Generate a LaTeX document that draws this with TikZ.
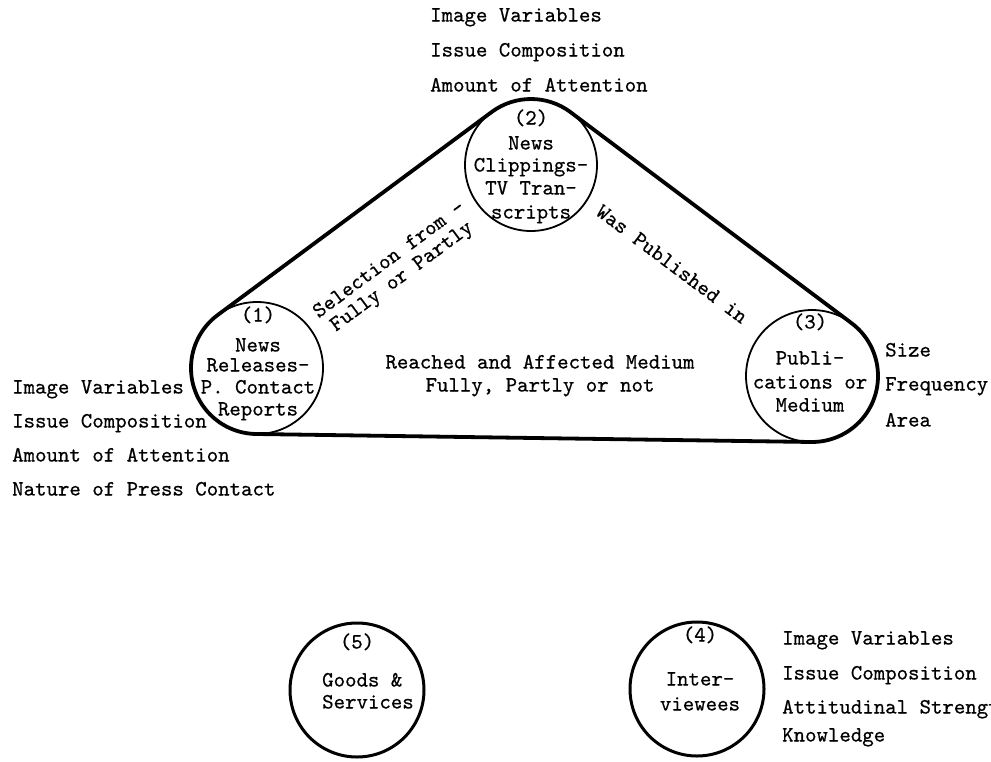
\documentclass[tikz,border=0pt]{standalone}
\usepackage{fontspec}
\usetikzlibrary{calc}
% typewriter face, slightly emboldened
\newfontfamily\tw{lmmono10-regular.otf}[FakeBold=0.6]
\begin{document}
\begin{tikzpicture}[x=1pt, y=-1pt,
  tw/.style={font={\tw\fontsize{21.8}{21}\selectfont}, inner sep=0pt},
  ln/.style={tw, text height=13pt, text depth=0pt},
  lbl/.style={ln, anchor=west},
  ring/.style={circle, draw, line width=1.8pt, minimum size=132pt, inner sep=0pt},
  heavyring/.style={ring, line width=3pt, minimum size=134pt},
  belt/.style={line width=3.8pt, line join=round}]
\useasboundingbox (0,0) rectangle (991,761);

% the three linked circles
\node[ring] (c1) at (257,368) {};
\node[ring] (c2) at (531,165) {};
\node[ring] (c3) at (812,376) {};

% the two free circles
\node[heavyring] (c5) at (357,690) {};
\node[heavyring] (c4) at (697,689) {};

% heavy band wrapped round circles 1, 2 and 3
\draw[belt] ($(c1)+(-126.5:66)$) -- ($(c2)+(-126.5:66)$)
  arc[start angle=-126.5, end angle=-53.1, radius=66]
  -- ($(c3)+(-53.1:66)$)
  arc[start angle=-53.1, end angle=90.8, radius=66]
  -- ($(c1)+(90.8:66)$)
  arc[start angle=90.8, end angle=233.5, radius=66] -- cycle;

% circle 2 text and attributes
\node[ln] (c2l1) at (531,118) {(2)};
\node[ln] (c2l2) at (531,143) {News};
\node[ln] (c2l3) at (531,165) {Clippings-};
\node[ln] (c2l4) at (531,188) {TV Tran-};
\node[ln] (c2l5) at (531,212) {scripts};
\node[lbl] (a2a) at (430,15) {Image Variables};
\node[lbl] (a2b) at (430,50) {Issue Composition};
\node[lbl] (a2c) at (430,85) {Amount of Attention};

% circle 1 text and attributes
\node[ln] (c1l1) at (258,315) {(1)};
\node[ln] (c1l2) at (258,345) {News};
\node[ln] (c1l3) at (258,365) {Releases-};
\node[ln] (c1l4) at (258,387) {P. Contact};
\node[ln] (c1l5) at (258,409) {Reports};
\node[lbl] (a1a) at (12,387) {Image Variables};
\node[lbl] (a1b) at (12,421) {Issue Composition};
\node[lbl] (a1c) at (12,455) {Amount of Attention};
\node[lbl] (a1d) at (12,489) {Nature of Press Contact};

% circle 3 text and attributes
\node[ln] (c3l1) at (810,322) {(3)};
\node[ln] (c3l2) at (810,358) {Publi-};
\node[ln] (c3l3) at (810,382) {cations or};
\node[ln] (c3l4) at (810,405) {Medium};
\node[lbl] (a3a) at (885,350) {Size};
\node[lbl] (a3b) at (885,384) {Frequency};
\node[lbl] (a3c) at (885,420) {Area};

% circle 4 text and attributes
\node[ln] (c4l1) at (700,635) {(4)};
\node[ln] (c4l2) at (700,679) {Inter-};
\node[ln] (c4l3) at (700,704) {viewees};
\node[lbl] (a4a) at (782,638) {Image Variables};
\node[lbl] (a4b) at (782,673) {Issue Composition};
\node[lbl] (a4c) at (782,707) {Attitudinal Strength};
\node[lbl] (a4d) at (782,735) {Knowledge};

% circle 5 text
\node[ln] (c5l1) at (357,642) {(5)};
\node[lbl] (c5l2) at (322,680) {Goods \&};
\node[lbl] (c5l3) at (322,702) {Services};

% relation labels
\node[tw, align=center, rotate=36.5] (r12) at (396,269) {Selection from -\\Fully or Partly};
\node[tw, rotate=-36.9] (r23) at (672,264) {Was Published in};
\node[ln] (r13a) at (540,362) {Reached and Affected Medium};
\node[ln] (r13b) at (540,385) {Fully, Partly or not};
\end{tikzpicture}
\end{document}
